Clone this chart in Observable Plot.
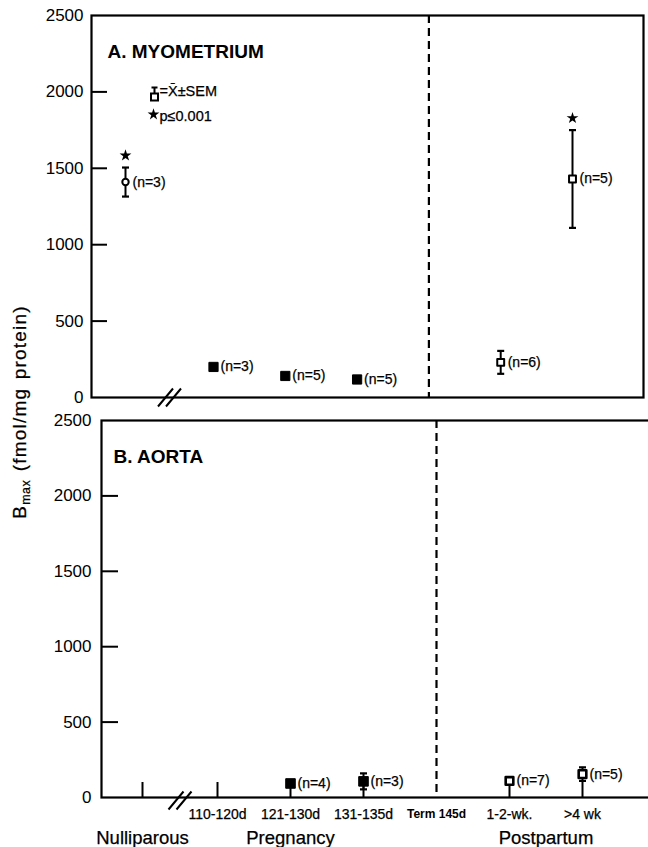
<!DOCTYPE html>
<html>
<head>
<meta charset="utf-8">
<script src="https://cdn.jsdelivr.net/npm/d3@7"></script>
<script src="https://cdn.jsdelivr.net/npm/@observablehq/plot@0.6"></script>
<style>
  body { margin: 0; background: #fff; font-family: "Liberation Sans", Arial, sans-serif; }
  #chart { position: relative; width: 648px; height: 847px; overflow: hidden; }
  #chart svg { position: absolute; left: 0; }
  #ylab { position: absolute; left: 21px; top: 412px; transform: translate(-50%, -50%) rotate(-90deg);
          white-space: nowrap; font-size: 19px; letter-spacing: 1.2px; word-spacing: 2px; color: #000;
          -webkit-text-stroke: 0.25px #000; }
  #ylab sub { font-size: 12.5px; letter-spacing: 0.5px; }
</style>
</head>
<body>
<div id="chart">
  <div id="ylab">B<sub>max</sub> (fmol/mg protein)</div>
</div>
<script>
// ---------- data ----------
const categories = ["Nulliparous", "110-120d", "121-130d", "131-135d", "Term 145d", "1-2-wk.", ">4 wk"];
const tickLabels = ["", "110-120d", "121-130d", "131-135d", "Term 145d", "1-2-wk.", ">4 wk"];
const groupNames = ["Nulliparous", "Pregnancy", "Postpartum"];
const groupMembers = [["Nulliparous"], ["110-120d", "121-130d", "131-135d"], ["1-2-wk.", ">4 wk"]];
const termCategory = "Term 145d";
const yTicks = [0, 500, 1000, 1500, 2000, 2500];

// A. Myometrium
const myoCategory = ["Nulliparous", "110-120d", "121-130d", "131-135d", "1-2-wk.", ">4 wk"];
const myoMean = [1410, 200, 141, 118, 230, 1430];
const myoSEM = [95, null, null, null, 75, 320];
const myoN = [3, 3, 5, 5, 6, 5];
const myoSignificant = [true, false, false, false, false, true];

// B. Aorta
const aorCategory = ["121-130d", "131-135d", "1-2-wk.", ">4 wk"];
const aorMean = [93, 107, 110, 155];
const aorSEM = [null, 53, 25, 45];
const aorN = [4, 3, 7, 5];
const aorSignificant = [false, false, false, false];

const panelTitles = ["A. MYOMETRIUM", "B. AORTA"];
const legendTexts = ["=X\u0304\u00b1SEM", "p\u22640.001"];

// ---------- helpers ----------
const W = 648;
const FONT = "Liberation Sans, Arial, Helvetica, sans-serif";
const idx = c => categories.indexOf(c);
const groupOf = c => groupNames[groupMembers.findIndex(m => m.includes(c))];
const rowsOf = (cat, mean, sem, n, sig) =>
  cat.map((c, i) => ({c, i: idx(c), m: mean[i], s: sem[i], n: n[i], sig: sig[i], g: groupOf(c)}));

const capSymbol = {draw(ctx) { ctx.moveTo(-3.5, 0); ctx.lineTo(3.5, 0); }};
const breakSymbol = {draw(ctx) {
  ctx.moveTo(-11.5, 9); ctx.lineTo(3.5, -9);
  ctx.moveTo(-3.5, 9); ctx.lineTo(11.5, -9);
}};
const legendGlyph = {draw(ctx) {
  ctx.moveTo(-3, -8); ctx.lineTo(3, -8);
  ctx.moveTo(0, -8); ctx.lineTo(0, -2);
  ctx.rect(-3.5, -2, 7, 7);
}};

function dataMarks(rows, opts) {
  const withSEM = rows.filter(d => d.s != null);
  const filled = rows.filter(d => d.g === "Pregnancy");
  const open = rows.filter(d => d.g === "Postpartum");
  const circ = rows.filter(d => d.g === "Nulliparous");
  const sig = rows.filter(d => d.sig);
  return [
    Plot.ruleX(withSEM, {x: "i", y1: d => d.m - d.s, y2: d => d.m + d.s, stroke: "black", strokeWidth: 2}),
    Plot.dot(withSEM, {x: "i", y: d => d.m + d.s, symbol: capSymbol, r: 3, fill: "none", stroke: "black", strokeWidth: 2.2}),
    Plot.dot(withSEM, {x: "i", y: d => d.m - d.s, symbol: capSymbol, r: 3, fill: "none", stroke: "black", strokeWidth: 2.2}),
    Plot.dot(circ, {x: "i", y: "m", symbol: "circle", r: 3.2, fill: "white", stroke: "black", strokeWidth: 2}),
    Plot.dot(filled, {x: "i", y: "m", symbol: "square", r: opts.filledR, fill: "black", stroke: "black", strokeWidth: 1}),
    Plot.dot(open, {x: "i", y: "m", symbol: "square", r: opts.openR, fill: "white", stroke: "black", strokeWidth: opts.openW, strokeLinejoin: "round"}),
    Plot.dot(sig, {x: "i", y: d => d.m + (d.s ?? 0), dy: -12, symbol: "star", r: 3.7, fill: "black"}),
    Plot.text(rows, {x: "i", y: "m", text: d => `(n=${d.n})`, dx: 7, textAnchor: "start", fontSize: 14, fill: "black", stroke: "black", strokeWidth: 0.25})
  ];
}

// ---------- Panel A ----------
const rowsA = rowsOf(myoCategory, myoMean, myoSEM, myoN, myoSignificant);
const mlA = 91, mrA = 5, mtA = 15, mbA = 13, hA = 410;
const plotWA = W - mlA - mrA;
const breakX = (idx(categories[0]) + idx(categories[1])) / 2;

const plotA = Plot.plot({
  width: W, height: hA,
  marginLeft: mlA, marginRight: mrA, marginTop: mtA, marginBottom: mbA,
  style: {fontFamily: FONT, fontSize: "14px", color: "black", background: "transparent", overflow: "visible"},
  x: {type: "linear", domain: [0, 1, categories.length - 1], range: [125, 213, 572], axis: null},
  y: {domain: [0, 2500], axis: null},
  marks: [
    Plot.frame({stroke: "black", strokeWidth: 2.2}),
    Plot.ruleX([idx(termCategory)], {x: d => d, stroke: "black", strokeWidth: 2.2, strokeDasharray: "8,5"}),
    Plot.ruleY(yTicks.slice(1, -1), {y: d => d, insetRight: plotWA - 16, stroke: "black", strokeWidth: 2}),
    Plot.axisY({ticks: yTicks, tickSize: 0, tickPadding: 8, fontSize: 17, tickFormat: d => String(d), label: null, fill: "black", stroke: "black", strokeWidth: 0.3}),
    Plot.dot([breakX], {x: d => d, y: [0], symbol: breakSymbol, r: 3, fill: "none", stroke: "black", strokeWidth: 2}),
    ...dataMarks(rowsA, {filledR: 5.2, openR: 3.9, openW: 2}),
    Plot.text([panelTitles[0]], {frameAnchor: "top-left", dx: 16, dy: 42, lineAnchor: "bottom", textAnchor: "start", fontSize: 19, fontWeight: "bold", fill: "black"}),
    Plot.dot([0], {frameAnchor: "top-left", dx: 63, dy: 80, symbol: legendGlyph, r: 3, fill: "white", stroke: "black", strokeWidth: 2}),
    Plot.text([legendTexts[0]], {frameAnchor: "top-left", dx: 68, dy: 80, lineAnchor: "bottom", textAnchor: "start", fontSize: 14.5, fill: "black", stroke: "black", strokeWidth: 0.25}),
    Plot.dot([0], {frameAnchor: "top-left", dx: 62, dy: 99, symbol: "star", r: 3.7, fill: "black"}),
    Plot.text([legendTexts[1]], {frameAnchor: "top-left", dx: 68, dy: 105, lineAnchor: "bottom", textAnchor: "start", fontSize: 14.5, fill: "black", stroke: "black", strokeWidth: 0.25})
  ]
});
plotA.style.top = "0px";

// ---------- Panel B ----------
const rowsB = rowsOf(aorCategory, aorMean, aorSEM, aorN, aorSignificant);
const mlB = 101, mrB = 0, mtB = 10, mbB = 50, hB = 437;
const plotHB = hB - mtB - mbB;
const tickCats = categories.filter(c => c !== termCategory);
const tickRows = categories.map((c, i) => ({i, label: tickLabels[i], c}));

const plotB = Plot.plot({
  width: W, height: hB,
  marginLeft: mlB, marginRight: mrB, marginTop: mtB, marginBottom: mbB,
  style: {fontFamily: FONT, fontSize: "14px", color: "black", background: "transparent", overflow: "hidden"},
  x: {type: "linear", domain: [0, 1, categories.length - 1], range: [142, 217, 582], axis: null},
  y: {domain: [0, 2500], axis: null},
  marks: [
    Plot.frame({stroke: "black", strokeWidth: 2.2, insetRight: -4}),
    Plot.ruleX([idx(termCategory)], {x: d => d, stroke: "black", strokeWidth: 2.2, strokeDasharray: "8,5"}),
    Plot.ruleY(yTicks.slice(1, -1), {y: d => d, insetRight: (W - mlB - mrB) - 17, stroke: "black", strokeWidth: 2}),
    Plot.ruleX(tickCats, {x: c => idx(c), insetTop: plotHB - 15, stroke: "black", strokeWidth: 2}),
    Plot.axisY({ticks: yTicks, tickSize: 0, tickPadding: 10, fontSize: 17, tickFormat: d => String(d), label: null, fill: "black", stroke: "black", strokeWidth: 0.3}),
    Plot.dot([breakX], {x: d => d, y: [0], dy: 3, symbol: breakSymbol, r: 3, fill: "none", stroke: "black", strokeWidth: 2}),
    ...dataMarks(rowsB, {filledR: 5.4, openR: 4.3, openW: 2.6}),
    Plot.text(tickRows.filter(d => d.c !== termCategory), {x: "i", frameAnchor: "bottom", dy: 21, lineAnchor: "bottom", text: "label", fontSize: 14, fill: "black", stroke: "black", strokeWidth: 0.25}),
    Plot.text(tickRows.filter(d => d.c === termCategory), {x: "i", frameAnchor: "bottom", dy: 20, lineAnchor: "bottom", text: "label", fontSize: 12, fontWeight: "bold", fill: "black"}),
    Plot.text(groupNames.map((g, k) => ({g, x: d3.mean(groupMembers[k], idx)})),
      {x: "x", frameAnchor: "bottom", dy: 46, lineAnchor: "bottom", text: "g", fontSize: 18.5, fill: "black", stroke: "black", strokeWidth: 0.25}),
    Plot.text([panelTitles[1]], {frameAnchor: "top-left", dx: 12, dy: 42, lineAnchor: "bottom", textAnchor: "start", fontSize: 19, fontWeight: "bold", fill: "black"})
  ]
});
plotB.style.top = "410px";

const chart = document.getElementById("chart");
chart.appendChild(plotA);
chart.appendChild(plotB);
</script>
</body>
</html>
